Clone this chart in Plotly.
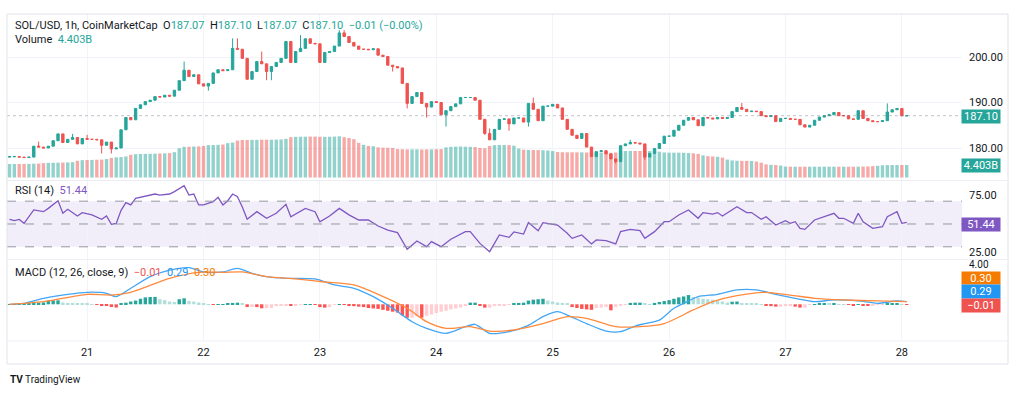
import pandas as pd
import plotly.graph_objects as go

# ---------------- data ----------------
start_time = "2025-07-20 08:00"
first_open = 178.0
closes = [
    178.1, 178.1, 178.0, 177.9, 178.0, 180.4, 180.2, 180.0, 180.4, 181.6,   # 0-9
    183.1, 181.2, 181.9, 182.3, 180.9, 182.1, 181.9, 181.9, 181.8, 180.6,   # 10-19
    181.3, 179.8, 180.0, 184.0, 186.7, 186.2, 188.7, 189.5, 190.2, 190.5,   # 20-29
    191.3, 191.2, 191.6, 191.4, 192.7, 194.8, 197.1, 195.7, 196.1, 194.1,   # 30-39
    193.6, 194.2, 196.5, 197.2, 197.0, 197.2, 201.9, 201.7, 199.7, 195.1,   # 40-49
    196.8, 199.0, 198.5, 196.8, 197.9, 198.8, 199.7, 203.4, 198.8, 201.2,   # 50-59
    201.9, 204.0, 203.0, 202.9, 198.8, 201.0, 201.2, 202.4, 205.3, 204.5,   # 60-69
    203.2, 202.4, 201.7, 201.7, 201.6, 201.8, 200.4, 200.1, 198.2, 197.9,   # 70-79
    197.6, 194.2, 189.8, 191.3, 192.2, 189.8, 189.0, 190.2, 190.0, 187.3,   # 80-89
    188.2, 189.1, 189.7, 191.1, 191.1, 191.1, 190.5, 186.3, 183.2, 181.8,   # 90-99
    184.1, 186.3, 186.4, 185.3, 186.6, 186.6, 185.7, 189.8, 188.5, 186.0,   # 100-109
    189.2, 189.2, 189.6, 188.8, 186.3, 184.1, 182.8, 182.1, 183.2, 180.2,   # 110-119
    178.1, 179.2, 179.4, 178.7, 177.6, 177.0, 180.5, 180.9, 181.2, 181.1,   # 120-129
    180.9, 178.0, 178.8, 179.9, 181.0, 182.6, 182.6, 183.9, 185.0, 186.1,   # 130-139
    186.7, 186.2, 184.9, 186.7, 186.6, 186.4, 186.7, 186.5, 186.7, 188.0,   # 140-149
    188.9, 188.5, 188.0, 188.1, 188.0, 187.1, 186.9, 187.1, 185.8, 186.5,   # 150-159
    186.5, 186.3, 186.3, 185.1, 184.6, 185.0, 186.1, 186.8, 187.1, 187.3,   # 160-169
    187.8, 187.1, 187.1, 186.4, 186.3, 188.2, 186.5, 186.0, 185.8, 185.8,   # 170-179
    186.0, 187.9, 188.4, 188.7, 187.07, 187.10,                             # 180-185
]
wick_high = {6: 181.4, 13: 183.1, 16: 182.9, 36: 199.0, 46: 204.1, 47: 204.1,
             52: 201.2, 60: 204.8, 68: 205.9, 69: 205.9, 99: 184.3, 108: 191.1,
             128: 181.8, 151: 189.9, 181: 189.8}
wick_low = {19: 178.8, 21: 178.8, 41: 192.6, 53: 194.9, 54: 194.9, 79: 196.8,
            82: 188.7, 86: 186.7, 90: 184.7, 98: 182.9, 103: 183.8, 107: 184.7,
            125: 176.6, 131: 177.4}

volume_b = [
    4.75, 4.75, 4.76, 4.78, 4.80, 4.85, 4.90,
    5.05, 5.15, 5.20, 5.22, 5.25, 5.30, 5.40,
    5.90, 6.10, 6.16, 6.20, 6.25, 6.30, 6.50,
    6.90, 7.10, 7.20, 7.40,
    8.00, 8.20, 8.27, 8.30, 8.35, 8.40, 8.45, 8.50, 8.60, 8.90,
    10.30, 10.80, 10.85, 10.90, 10.95, 11.10,
    11.40, 11.45, 11.50, 11.60,
    12.10, 12.30,
    13.00, 13.20, 13.20, 13.25, 13.25, 13.30, 13.30, 13.30, 13.35, 13.40, 13.60,
    14.20, 14.30, 14.35, 14.36, 14.40, 14.40, 14.30, 14.30, 14.35, 14.40, 14.50,
    14.20, 13.90, 13.50,
    12.20, 11.50, 11.10, 11.00,
    10.60, 10.50, 10.45, 10.40,
    10.00, 9.95, 9.90, 9.90, 9.90, 9.85, 9.90, 9.90, 9.95, 10.00,
    10.60, 10.80, 10.85, 10.90, 10.85, 10.80, 10.70,
    10.40, 10.30,
    11.10, 11.40, 11.45, 11.45, 11.40, 11.20,
    10.20, 9.80, 9.70, 9.68, 9.65, 9.60, 9.50, 9.30,
    8.95, 8.90, 8.87, 8.87, 8.85, 8.85, 8.80,
    8.75, 8.73, 8.73, 8.73, 8.70, 8.80,
    9.20, 9.33, 9.35, 9.35, 9.33, 9.30, 9.30, 9.25, 9.10,
    8.80, 8.75, 8.73, 8.73, 8.70, 8.60, 8.50, 8.30,
    7.80, 7.50, 7.40, 7.30, 7.00,
    6.30, 6.00, 5.90, 5.85, 5.85, 5.80, 5.60, 5.20,
    4.60, 4.45, 4.40, 4.20,
    3.85, 3.80, 3.80, 3.80, 3.80, 3.80, 3.80, 3.80, 3.80, 3.80,
    3.80, 3.80, 3.80, 3.80, 3.80, 3.80, 3.85, 3.90, 4.00, 4.10,
    4.30, 4.38, 4.40, 4.40, 4.40, 4.403,
]

rsi_idx = [0, 1, 2, 3, 5, 7, 8, 10, 11, 12, 14, 15, 17, 18, 19, 20, 21, 22, 23, 24,
           25, 26, 28, 30, 31, 33, 34, 36, 37, 38, 39, 40, 42, 43, 44, 45, 46, 47, 48, 49,
           51, 53, 55, 57, 58, 60, 61, 63, 64, 66, 68, 70, 72, 74, 76, 78, 80, 82, 84, 86,
           87, 89, 91, 94, 95, 97, 99, 101, 103, 104, 106, 107, 109, 110, 113, 115, 116, 118, 120, 121,
           123, 125, 126, 128, 130, 131, 133, 135, 136, 138, 140, 142, 143, 145, 146, 147, 150, 152, 153, 155,
           156, 158, 160, 161, 162, 163, 164, 166, 168, 170, 171, 172, 174, 175, 176, 178, 180, 181, 183, 184,
           185]
rsi_val = [54.1, 52.9, 54.0, 50.6, 62.3, 60.8, 63.7, 70.4, 59.4, 62.9, 57.0, 59.9, 57.9, 55.9, 54.1, 57.0, 49.7, 50.5, 62.0, 68.7,
           66.7, 72.5, 74.6, 76.3, 75.4, 76.3, 78.4, 83.6, 75.4, 76.3, 66.7, 66.7, 69.6, 73.4, 66.7, 70.4, 76.3, 74.0, 65.0, 54.1,
           60.8, 55.0, 59.4, 67.3, 56.4, 60.8, 63.7, 60.8, 52.0, 57.0, 63.7, 58.0, 53.5, 53.5, 48.2, 44.7, 42.4, 27.8, 35.1, 30.1,
           34.5, 30.1, 36.6, 43.3, 43.3, 33.0, 25.7, 40.4, 38.3, 43.0, 41.2, 51.2, 44.1, 51.2, 49.1, 41.8, 37.4, 40.4, 32.5, 36.0,
           35.4, 32.5, 43.3, 45.3, 44.1, 37.4, 43.3, 52.0, 52.0, 57.9, 62.3, 55.0, 60.0, 58.7, 60.0, 57.0, 65.2, 60.0, 60.0, 54.1,
           56.4, 49.1, 52.9, 50.6, 52.0, 46.2, 45.3, 53.5, 56.4, 59.4, 55.0, 55.0, 50.6, 59.4, 52.0, 46.2, 47.6, 56.4, 60.8, 50.6,
           51.44]

macd_idx = [0, 3, 7, 12, 16, 20, 22, 25, 29, 33, 37, 40, 44, 47, 50, 53, 57, 63, 67, 71,
            75, 79, 83, 86, 90, 94, 96, 99, 103, 107, 110, 113, 115, 119, 123, 126, 129, 131, 134, 137,
            140, 142, 146, 150, 154, 158, 162, 166, 170, 175, 179, 183, 185]
macd_val = [0.0, 0.1, 0.65, 1.08, 1.3, 1.19, 0.83, 1.73, 2.99, 3.7, 3.96, 3.5, 3.5, 3.89, 3.35, 2.99, 2.81, 2.74, 2.09, 1.73,
            0.83, -0.43, -1.88, -2.6, -3.14, -2.42, -2.16, -3.14, -2.96, -2.27, -1.34, -0.8, -1.16, -2.09, -2.89, -2.96, -2.35, -2.09, -1.71, -0.43,
            0.36, 0.83, 1.08, 1.55, 1.55, 1.08, 0.65, 0.29, 0.47, 0.36, 0.11, 0.36, 0.29]
signal_idx = [0, 7, 16, 21, 25, 33, 39, 44, 48, 53, 59, 65, 71, 76, 82, 86, 90, 95, 99, 104,
              110, 115, 119, 125, 130, 135, 141, 145, 150, 156, 161, 166, 172, 179, 185]
signal_val = [0.0, 0.29, 1.08, 1.0, 1.3, 2.81, 3.46, 3.46, 3.5, 2.99, 2.74, 2.41, 2.09, 1.08, -0.43, -1.88, -2.6, -2.42, -2.89, -2.78,
              -2.09, -1.34, -1.52, -2.42, -2.42, -2.09, -0.61, 0.29, 0.94, 1.3, 1.0, 0.65, 0.47, 0.36, 0.30]

hist = [
    0.02, 0.03, 0.05, 0.05, 0.08,                       # 0-4
    0.15, 0.18, 0.20,                                   # 5-7
    0.40, 0.43, 0.43,                                   # 8-10
    0.20, 0.15, 0.12, 0.10, 0.08, 0.05, 0.03,           # 11-17
    -0.05, -0.10, -0.15, -0.30, -0.35,                  # 18-22
    0.05,                                               # 23
    0.18, 0.30, 0.40, 0.60, 0.75, 0.79, 0.80,           # 24-30
    0.55, 0.45, 0.30, 0.25,                             # 31-34
    0.55, 0.65,                                         # 35-36
    0.36, 0.30, 0.20,                                   # 37-39
    0.10, 0.02, -0.05, 0.02, 0.03, 0.05,                # 40-45
    0.15, 0.18,                                         # 46-47
    0.05, -0.29, -0.29,                                 # 48-50
    -0.30, -0.43, -0.43, -0.40,                         # 51-54
    -0.20, -0.15, -0.10, -0.15, -0.10,                  # 55-59
    -0.03, 0.02, 0.03, -0.03,                           # 60-63
    -0.30, -0.36, -0.30,                                # 64-66
    -0.05, 0.02, -0.03,                                 # 67-69
    -0.18, -0.20, -0.25, -0.30, -0.40, -0.45, -0.50, -0.60,
    -0.70, -0.80, -0.90, -1.20, -1.45, -1.45, -1.30, -1.45,   # 70-85
    -1.25, -1.10, -0.95, -0.80, -0.70, -0.55, -0.45, -0.35, -0.20,  # 86-94
    0.18, 0.18,                                         # 95-96
    -0.10, -0.36, -0.36,                                # 97-99
    -0.20, -0.15, -0.10, -0.05,                         # 100-103
    0.10, 0.15, 0.18,                                   # 104-106
    0.40, 0.50, 0.55, 0.60,                             # 107-110
    0.40, 0.30, 0.20, 0.15, 0.05,                       # 111-115
    -0.30, -0.40, -0.50, -0.55, -0.60,                  # 116-120
    -0.40, -0.35, -0.30,                                # 121-123
    -0.65,                                              # 124
    -0.30, -0.15, -0.05,                                # 125-127
    0.15, 0.18, 0.18,                                   # 128-130
    0.05, 0.03,                                         # 131-132
    0.15, 0.25, 0.35, 0.45, 0.60, 0.75, 0.85, 1.00,     # 133-140
    0.80, 0.70, 0.60, 0.55, 0.50, 0.40, 0.30, 0.20,     # 141-148
    0.28, 0.30,                                         # 149-150
    0.10, 0.08, 0.06, 0.05, 0.03,                       # 151-155
    -0.18, -0.20, -0.25, -0.25, -0.20, -0.18, -0.25,    # 156-162
    -0.36, -0.36,                                       # 163-164
    -0.05, 0.03, 0.05, 0.06, 0.05, 0.06, 0.03, 0.02, -0.05, -0.10,
    0.02, -0.08, -0.12, -0.10, -0.05, -0.02, 0.08, 0.10, 0.12, 0.03, -0.01,  # 165-185
]

assert len(closes) == len(volume_b) == len(hist) == 186
assert len(rsi_idx) == len(rsi_val)
assert len(macd_idx) == len(macd_val)
assert len(signal_idx) == len(signal_val)

# ---------------- derived series ----------------
times = pd.date_range(start_time, periods=len(closes), freq="h")
opens = [first_open] + closes[:-1]
highs = [max(o, c) for o, c in zip(opens, closes)]
lows = [min(o, c) for o, c in zip(opens, closes)]
for k, v in wick_high.items():
    highs[k] = max(highs[k], v)
for k, v in wick_low.items():
    lows[k] = min(lows[k], v)

UP, DN = "#26a69a", "#ef5350"
vol_colors = ["rgba(38,166,154,0.5)" if c >= o else "rgba(239,83,80,0.5)"
              for o, c in zip(opens, closes)]
hist_colors = []
for k, h in enumerate(hist):
    prev = hist[k - 1] if k > 0 else 0
    if h >= 0:
        hist_colors.append("#26a69a" if h >= prev else "#b2dfdb")
    else:
        hist_colors.append("#ff5252" if h < prev else "#ffcdd2")

# ---------------- layout helpers ----------------
W, H = 1024, 394
def fx(px):
    return px / W
def fy(py):
    return 1 - py / H

X0, X1 = 7, 962
hour = pd.Timedelta(hours=1)
x_range = [times[0] - 0.52 * hour, times[0] + 196.4 * hour]

def price_at(py):
    return 200 - (py - 57) / 4.55

FONT = "Roboto"
TXT = "#131722"

fig = go.Figure()

fig.add_trace(go.Bar(
    x=times, y=volume_b, marker=dict(color=vol_colors, line=dict(width=0)),
    xaxis="x", yaxis="y4", hoverinfo="skip", showlegend=False))

fig.add_trace(go.Candlestick(
    x=times, open=opens, high=highs, low=lows, close=closes,
    increasing=dict(line=dict(color=UP, width=1), fillcolor=UP),
    decreasing=dict(line=dict(color=DN, width=1), fillcolor=DN),
    whiskerwidth=0, xaxis="x", yaxis="y", showlegend=False))

fig.add_trace(go.Scatter(
    x=[times[i] for i in rsi_idx], y=rsi_val, mode="lines",
    line=dict(color="#7e57c2", width=1.3), xaxis="x", yaxis="y2", showlegend=False))

fig.add_trace(go.Bar(
    x=times, y=hist, marker=dict(color=hist_colors, line=dict(width=0)),
    xaxis="x", yaxis="y3", showlegend=False))

fig.add_trace(go.Scatter(
    x=[times[i] for i in macd_idx], y=macd_val, mode="lines",
    line=dict(color="#42a5f5", width=1.3, shape="spline", smoothing=0.7),
    xaxis="x", yaxis="y3", showlegend=False))
fig.add_trace(go.Scatter(
    x=[times[i] for i in signal_idx], y=signal_val, mode="lines",
    line=dict(color="#ff8a3d", width=1.3, shape="spline", smoothing=0.7),
    xaxis="x", yaxis="y3", showlegend=False))

axis_font = dict(family=FONT, size=11, color=TXT)

fig.update_layout(
    width=W, height=H, margin=dict(l=0, r=0, t=0, b=0),
    paper_bgcolor="white", plot_bgcolor="white",
    showlegend=False, barmode="overlay", bargap=0.3,
    font=dict(family=FONT, size=11, color=TXT),
    xaxis=dict(
        domain=[fx(X0), fx(X1)], type="date", range=x_range, anchor="y3",
        rangeslider=dict(visible=False), tickformat="%-d",
        dtick=86400000, tick0="2025-07-21", showgrid=True, gridcolor="#f0f3fa",
        ticks="", tickfont=axis_font, showline=False, zeroline=False,
        ticklabelstandoff=4,
    ),
    yaxis=dict(
        domain=[fy(180), fy(14)], range=[price_at(180), price_at(14)],
        side="right", anchor="x", tickvals=[180, 190, 200], tickformat=".2f",
        showgrid=True, gridcolor="#f0f3fa", zeroline=False, ticks="",
        tickfont=axis_font, ticklabelstandoff=6,
    ),
    yaxis4=dict(
        overlaying="y", range=[-0.88, 57.55], visible=False, showgrid=False,
        anchor="x",
    ),
    yaxis2=dict(
        domain=[fy(259), fy(181)], range=[19.3, 87.7], side="right", anchor="x",
        tickvals=[25, 75], tickformat=".2f", showgrid=False, zeroline=False,
        ticks="", tickfont=axis_font, ticklabelstandoff=6,
    ),
    yaxis3=dict(
        domain=[fy(340), fy(260)], range=[-3.86, 4.79], side="right", anchor="x",
        tickvals=[4.25], ticktext=["4.00"], showgrid=False, zeroline=False,
        ticks="", tickfont=dict(family=FONT, size=10, color=TXT), ticklabelstandoff=6,
    ),
)

shapes = []
# RSI band and dashed levels
shapes.append(dict(type="rect", xref="paper", yref="y2", x0=fx(X0), x1=fx(X1),
                   y0=30, y1=70, fillcolor="rgba(126,87,194,0.1)", line=dict(width=0),
                   layer="below"))
for lvl in (70, 50, 30):
    shapes.append(dict(type="line", xref="paper", yref="y2", x0=fx(X0), x1=fx(X1),
                       y0=lvl, y1=lvl, line=dict(color="#9598a1", width=1, dash="dash")))
# last price line
shapes.append(dict(type="line", xref="paper", yref="y", x0=fx(X0), x1=fx(X1),
                   y0=closes[-1], y1=closes[-1],
                   line=dict(color="rgba(120,123,134,0.45)", width=1, dash="dot")))
# frame and pane separators
shapes.append(dict(type="rect", xref="paper", yref="paper", x0=fx(7), x1=fx(1008),
                   y0=fy(364), y1=fy(14), line=dict(color="#e0e3eb", width=1)))
for py in (180.5, 259.5, 341):
    shapes.append(dict(type="line", xref="paper", yref="paper", x0=fx(7), x1=fx(1008),
                       y0=fy(py), y1=fy(py), line=dict(color="#eceef3", width=1)))
fig.update_layout(shapes=shapes)

G, PUR, RED, BLU, ORA = "#26a69a", "#7e57c2", "#ef5350", "#2196f3", "#f57c00"
ann = []
def legend(py, text):
    ann.append(dict(xref="paper", yref="paper", x=fx(13), y=fy(py), xanchor="left",
                    yanchor="middle", showarrow=False, text=text,
                    font=dict(family=FONT, size=11, color=TXT)))

sp = lambda c, t: f'<span style="color:{c}">{t}</span>'
legend(26, "SOL/USD, 1h, CoinMarketCap  O" + sp(G, "187.07") + "  H" + sp(G, "187.10")
       + "  L" + sp(G, "187.07") + "  C" + sp(G, "187.10") + "  " + sp(G, "−0.01 (−0.00%)"))
legend(40, "Volume  " + sp(G, "4.403B"))
legend(190, "RSI (14)  " + sp(PUR, "51.44"))
legend(272, "MACD (12, 26, close, 9)  " + sp(RED, "−0.01") + "  " + sp(BLU, "0.29")
       + "  " + sp(ORA, "0.30"))

def tag(py, text, bg, h=13):
    ann.append(dict(xref="paper", yref="paper", x=fx(981), y=fy(py), xanchor="center",
                    yanchor="middle", showarrow=False, text=text, bgcolor=bg,
                    width=38, height=h, borderpad=0,
                    font=dict(family=FONT, size=11, color="white")))

tag(116, "187.10", G)
tag(165.5, "4.403B", G)
tag(224, "51.44", PUR)
tag(278, "0.30", ORA, 12)
tag(291.5, "0.29", BLU)
tag(305, "−0.01", RED)

ann.append(dict(xref="paper", yref="paper", x=fx(8), y=fy(379), xanchor="left",
                yanchor="middle", showarrow=False,
                text="<b>TV</b> TradingView",
                font=dict(family=FONT, size=10, color=TXT)))
fig.update_layout(annotations=ann)

fig.write_html("out.html", config={"displayModeBar": False},
               post_script="document.body.style.margin='0';")
